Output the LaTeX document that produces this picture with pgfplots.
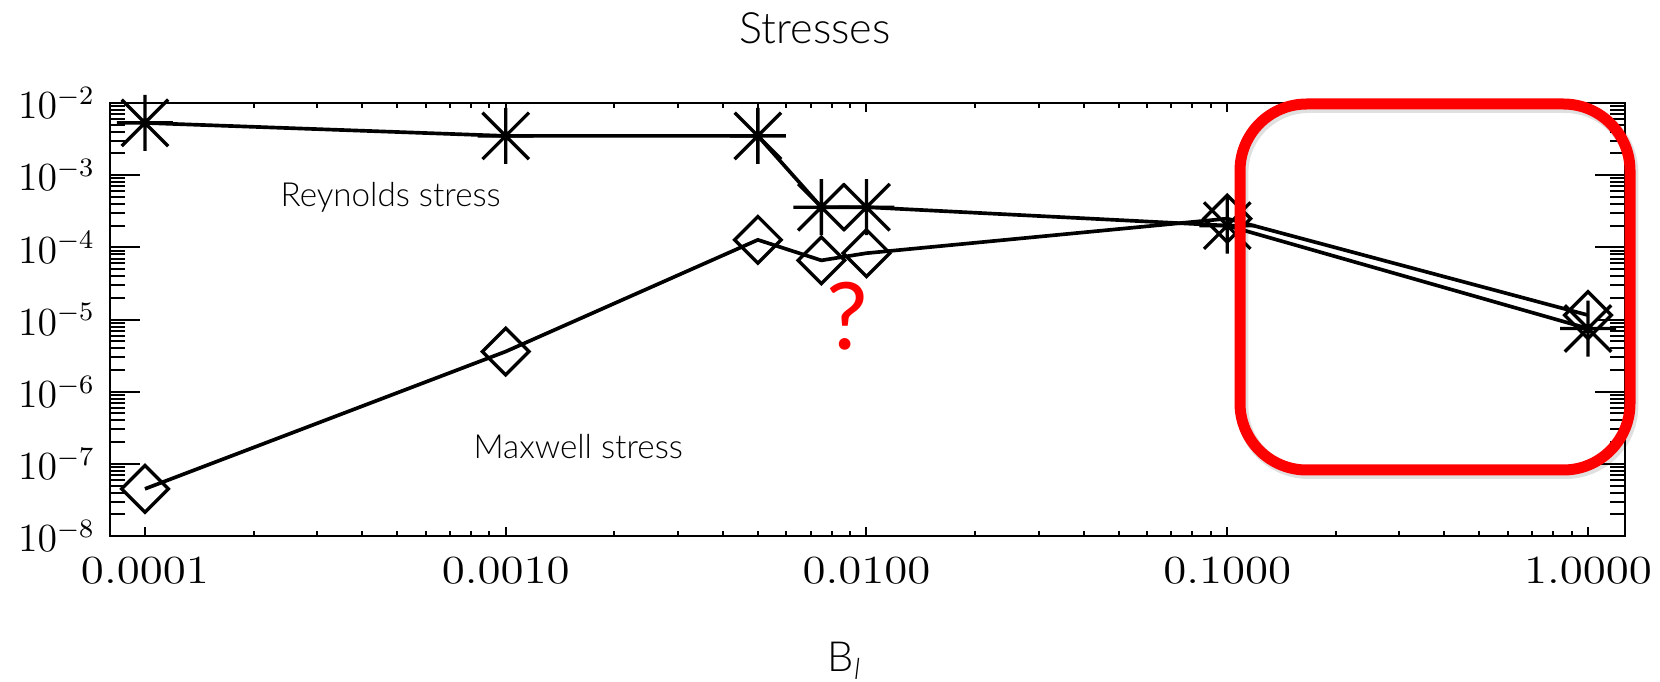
\documentclass[border=0pt]{standalone}
\usepackage{pgfplots}
\pgfplotsset{compat=1.18}
\usepackage{fontspec}
\setmainfont{Lato}[UprightFont={* Light}]
\newfontfamily\markfont{Lato}

% IDL-style plot symbols: eight-armed asterisk and open diamond
\pgfdeclareplotmark{idlstar}{%
  \pgfpathmoveto{\pgfqpoint{0pt}{\pgfplotmarksize}}%
  \pgfpathlineto{\pgfqpoint{0pt}{-\pgfplotmarksize}}%
  \pgfpathmoveto{\pgfqpoint{\pgfplotmarksize}{0pt}}%
  \pgfpathlineto{\pgfqpoint{-\pgfplotmarksize}{0pt}}%
  \pgfpathmoveto{\pgfqpoint{0.83\pgfplotmarksize}{0.83\pgfplotmarksize}}%
  \pgfpathlineto{\pgfqpoint{-0.83\pgfplotmarksize}{-0.83\pgfplotmarksize}}%
  \pgfpathmoveto{\pgfqpoint{-0.83\pgfplotmarksize}{0.83\pgfplotmarksize}}%
  \pgfpathlineto{\pgfqpoint{0.83\pgfplotmarksize}{-0.83\pgfplotmarksize}}%
  \pgfusepathqstroke}
\pgfdeclareplotmark{idldiamond}{%
  \pgfpathmoveto{\pgfqpoint{0pt}{\pgfplotmarksize}}%
  \pgfpathlineto{\pgfqpoint{\pgfplotmarksize}{0pt}}%
  \pgfpathlineto{\pgfqpoint{0pt}{-\pgfplotmarksize}}%
  \pgfpathlineto{\pgfqpoint{-\pgfplotmarksize}{0pt}}%
  \pgfpathclose
  \pgfusepathqstroke}

\newcommand{\xtl}[1]{\scalebox{1.18}[1]{$#1$}}

\begin{document}
\begin{tikzpicture}
\begin{axis}[
  name=ax,
  at={(0,0)}, anchor=south west,
  scale only axis,
  width=454.5bp, height=129.9bp,
  xmode=log, ymode=log,
  xmin=8.0e-5, xmax=1.266,
  ymin=1e-8, ymax=1e-2,
  xtick={1e-4,1e-3,1e-2,1e-1,1},
  xticklabels={\xtl{0.0001},\xtl{0.0010},\xtl{0.0100},\xtl{0.1000},\xtl{1.0000}},
  ytick={1e-8,1e-7,1e-6,1e-5,1e-4,1e-3,1e-2},
  tick label style={font=\fontsize{12}{14}\selectfont},
  xticklabel style={yshift=-3bp},
  yticklabel style={xshift=-1bp},
  axis line style={line width=0.7bp},
  every tick/.style={black, line width=0.6bp},
  x tick style={/pgfplots/major tick length=2.7bp, /pgfplots/minor tick length=1.5bp},
  y tick style={/pgfplots/major tick length=9bp, /pgfplots/minor tick length=4.5bp},
  xlabel={B\textsubscript{\itshape l}},
  xlabel style={at={(0.485,-0.3140)}, anchor=base, font=\fontsize{12.5}{14}\selectfont},
]
% Reynolds stress
\addplot[black, line width=1.1bp, mark=idlstar, mark size=8.4bp,
         mark options={line width=1bp}] coordinates {
  (1e-4, 5.3e-3)
  (1e-3, 3.5e-3)
  (5e-3, 3.5e-3)
  (7.5e-3, 3.6e-4)
  (1e-2, 3.6e-4)
  (1e-1, 2.0e-4)
  (1, 7.5e-6)
};
% Maxwell stress
\addplot[black, line width=1.1bp, mark=idldiamond, mark size=7bp,
         mark options={line width=1bp}] coordinates {
  (1e-4, 4.5e-8)
  (1e-3, 3.6e-6)
  (5e-3, 1.27e-4)
  (7.5e-3, 6.6e-5)
  (1e-2, 8.3e-5)
  (1e-1, 2.5e-4)
  (1, 1.15e-5)
};
\node[anchor=west, font=\fontsize{10}{12}\selectfont, inner sep=0pt]
  at (rel axis cs:0.1122,0.783) {Reynolds stress};
\node[anchor=west, font=\fontsize{10}{12}\selectfont, inner sep=0pt]
  at (rel axis cs:0.2396,0.2055) {Maxwell stress};
\node[red, font=\markfont\fontsize{28}{30}\selectfont, inner sep=0pt]
  at (rel axis cs:0.4865,0.508) {?};
\end{axis}
% plot title
\node[font=\fontsize{13}{15}\selectfont, inner sep=0pt] at (211.5bp,152.4bp) {Stresses};
% highlight frame around the strongest-field case
\draw[black, opacity=0.12, line width=3.8bp, rounded corners=20bp]
  (339.6bp,19.0bp) rectangle (456.6bp,128.8bp);
\draw[red, line width=3.3bp, rounded corners=20bp]
  (339bp,19.8bp) rectangle (456bp,129.6bp);
\pgfresetboundingbox
\useasboundingbox (-33bp,-43.8bp) rectangle (465bp,160.8bp);
\end{tikzpicture}
\end{document}
